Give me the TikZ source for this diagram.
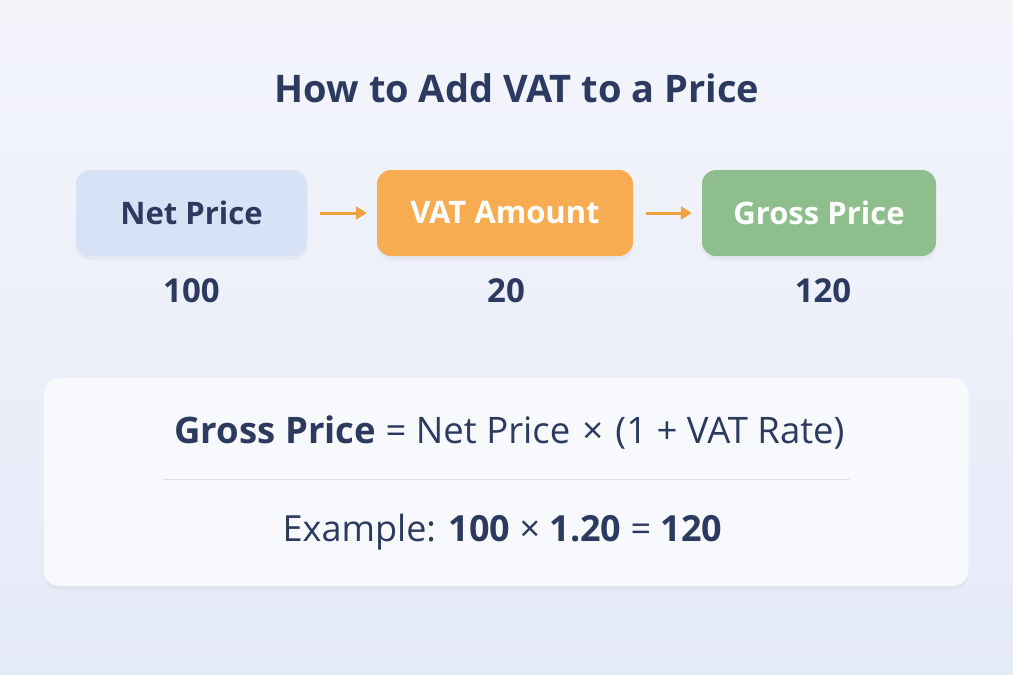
\documentclass[tikz,border=0pt]{standalone}
\usepackage{fontspec}
\setmainfont{Open Sans}
\usetikzlibrary{arrows.meta,shadows}

\definecolor{navy}{HTML}{2B3A5E}
\definecolor{bgtop}{HTML}{F4F5FB}
\definecolor{bgbottom}{HTML}{E5EAF8}
\definecolor{netblue}{HTML}{D8E2F6}
\definecolor{vatorange}{HTML}{F7AC52}
\definecolor{grossgreen}{HTML}{8FBE8D}
\definecolor{arroworange}{HTML}{EFA241}
\definecolor{panelwhite}{HTML}{F8F9FD}
\definecolor{sepgrey}{HTML}{DCDFE8}

\begin{document}
\begin{tikzpicture}[x=1pt,y=-1pt,
pricebox/.style={rectangle, rounded corners=14pt, minimum width=231pt, minimum height=86pt, inner sep=0pt, font=\bfseries\fontsize{31}{37}\selectfont, drop shadow={opacity=0.08, shadow xshift=0pt, shadow yshift=-4pt}},
valuetext/.style={anchor=base, text=navy, font=\bfseries\fontsize{33}{40}\selectfont},
flowarrow/.style={draw=arroworange, line width=3pt, -{Triangle[length=11pt,width=13pt]}, shorten <=13pt, shorten >=10pt}
]
%Background
\shade[top color=bgtop, bottom color=bgbottom] (0,0) rectangle (1013,675);
\useasboundingbox (0,0) rectangle (1013,675);

%Title
\node[anchor=base, text=navy, font=\bfseries\fontsize{38}{46}\selectfont] (title) at (517,102) {How to Add VAT to a Price};

%Boxes
\node[pricebox, fill=netblue, text=navy] (net) at (191.5,213) {Net Price};
\node[pricebox, fill=vatorange, text=white, minimum width=256pt] (vat) at (505,213) {VAT Amount};
\node[pricebox, fill=grossgreen, text=white, minimum width=234pt] (gross) at (819,213) {Gross Price};

%Arrows
\draw[flowarrow] (net) -- (vat);
\draw[flowarrow] (vat) -- (gross);

%Values
\node[valuetext] (netval) at (191.5,302) {100};
\node[valuetext] (vatval) at (506,302) {20};
\node[valuetext] (grossval) at (823,302) {120};

%Formula panel
\node[rectangle, rounded corners=16pt, minimum width=925pt, minimum height=208pt, fill=panelwhite, drop shadow={opacity=0.06, shadow xshift=0pt, shadow yshift=-4pt}] (panel) at (506,482) {};
\node[anchor=base, text=navy, font=\fontsize{36.5}{44}\selectfont] (formula) at (509.5,443) {{\bfseries Gross Price} = Net Price\,\,×\,\,(1 + VAT Rate)};
\draw[sepgrey, line width=1pt] (163,479) -- (850,479);
\node[anchor=base, text=navy, font=\fontsize{36}{44}\selectfont] (example) at (502.5,541) {Example: {\bfseries 100} × {\bfseries 1.20} = {\bfseries 120}};
\end{tikzpicture}
\end{document}
